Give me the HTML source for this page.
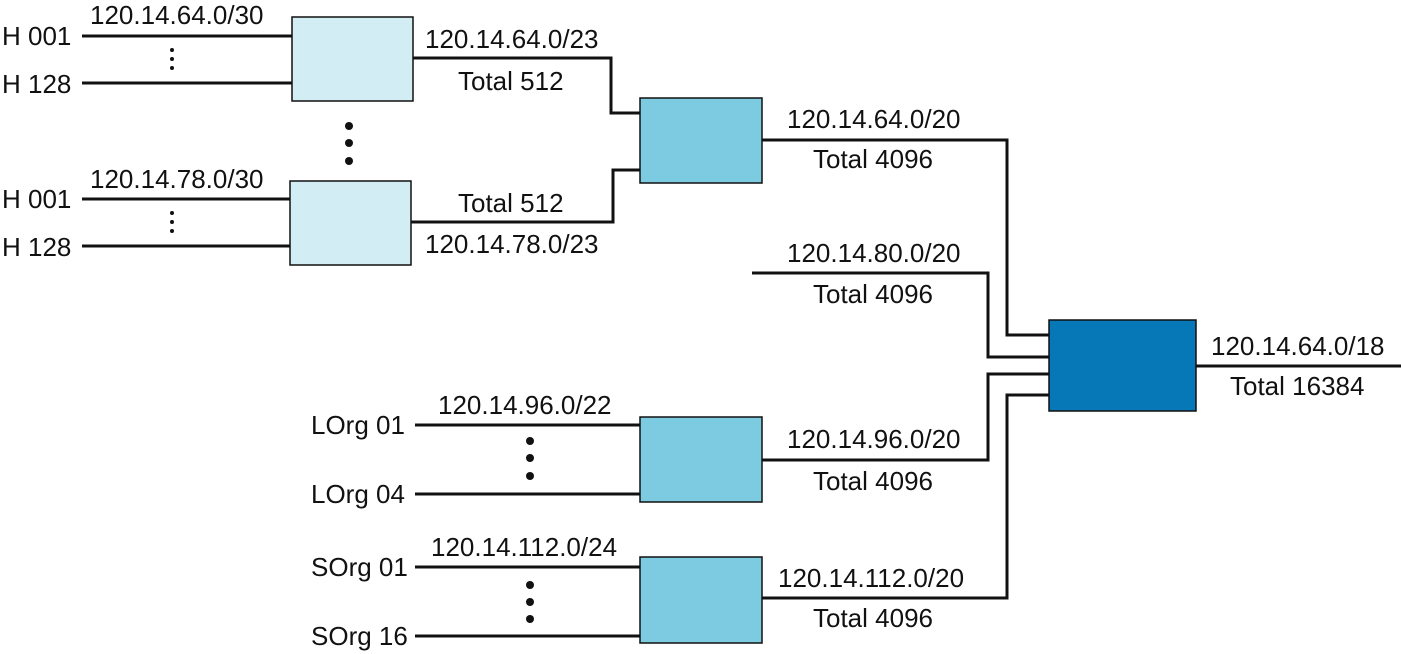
<!DOCTYPE html>
<html><head><meta charset="utf-8"><style>
html,body{margin:0;padding:0;background:#fff;}
svg{display:block;}
text{font-family:"Liberation Sans",sans-serif;font-size:26px;fill:#111;}
.l{stroke:#111;stroke-width:3;fill:none;}
.b{stroke:#111;stroke-width:1.5;}
</style></head><body>
<svg width="1401" height="654" viewBox="0 0 1401 654">
<!-- lines -->
<g>
<path class="l" d="M82 36H292M82 83H292M82 199H290M82 246H290"/>
<path class="l" d="M413 58H611V113H640M411 222H613V170H640"/>
<path class="l" d="M762 140H1007V335H1049M752 273H988V357H1049M762 460H988V374H1049M762 598H1007V395H1049"/>
<path class="l" d="M1196 366H1401"/>
<path class="l" d="M415 425H640M415 494H640M415 567H640M415 636H640"/>
</g>
<!-- boxes -->
<rect class="b" x="292" y="17" width="121" height="84" fill="#d3edf5"/>
<rect class="b" x="290" y="181" width="121" height="84" fill="#d3edf5"/>
<rect class="b" x="640" y="98" width="122" height="85" fill="#7dcbe0"/>
<rect class="b" x="1049" y="320" width="147" height="91" fill="#0778b7"/>
<rect class="b" x="640" y="417" width="122" height="85" fill="#7dcbe0"/>
<rect class="b" x="640" y="557" width="122" height="86" fill="#7dcbe0"/>
<!-- dots -->
<g fill="#111">
<circle cx="172" cy="50" r="2"/><circle cx="172" cy="59" r="2"/><circle cx="172" cy="68" r="2"/>
<circle cx="172" cy="213" r="2"/><circle cx="172" cy="222" r="2"/><circle cx="172" cy="231" r="2"/>
<circle cx="349" cy="126" r="4"/><circle cx="349" cy="143" r="4"/><circle cx="349" cy="161" r="4"/>
<circle cx="530" cy="441" r="4"/><circle cx="530" cy="458" r="4"/><circle cx="530" cy="476" r="4"/>
<circle cx="530" cy="585" r="4"/><circle cx="530" cy="602" r="4"/><circle cx="530" cy="619" r="4"/>
</g>
<!-- labels -->
<g>
<text x="2" y="45">H 001</text><text x="2" y="93">H 128</text>
<text x="90" y="24">120.14.64.0/30</text>
<text x="2" y="208">H 001</text><text x="2" y="256">H 128</text>
<text x="90" y="188">120.14.78.0/30</text>
<text x="425" y="48">120.14.64.0/23</text><text x="458" y="90">Total 512</text>
<text x="458" y="212">Total 512</text><text x="425" y="253">120.14.78.0/23</text>
<text x="787" y="128">120.14.64.0/20</text><text x="813" y="168">Total 4096</text>
<text x="787" y="262">120.14.80.0/20</text><text x="813" y="303">Total 4096</text>
<text x="1211" y="355">120.14.64.0/18</text><text x="1230" y="395">Total 16384</text>
<text x="311" y="434">LOrg 01</text><text x="311" y="503">LOrg 04</text>
<text x="438" y="414">120.14.96.0/22</text>
<text x="787" y="448">120.14.96.0/20</text><text x="813" y="490">Total 4096</text>
<text x="311" y="576">SOrg 01</text><text x="311" y="645">SOrg 16</text>
<text x="431" y="556">120.14.112.0/24</text>
<text x="778" y="587">120.14.112.0/20</text><text x="813" y="627">Total 4096</text>
</g>
</svg>
</body></html>
